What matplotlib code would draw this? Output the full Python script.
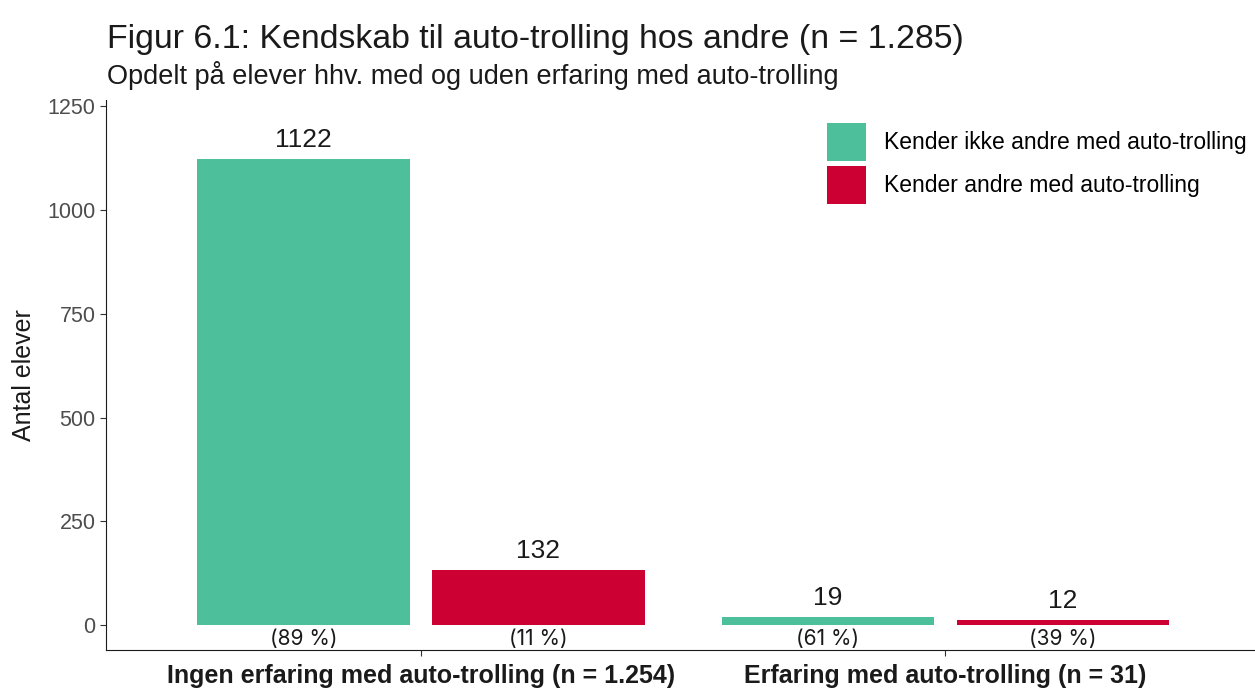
import matplotlib
matplotlib.use("Agg")
import matplotlib.pyplot as plt
import numpy as np

# data
groups = ["Ingen erfaring med auto-trolling (n = 1.254)", "Erfaring med auto-trolling (n = 31)"]
series = ["Kender ikke andre med auto-trolling", "Kender andre med auto-trolling"]
kender_ikke = [1122, 19]
kender = [132, 12]
pct_kender_ikke = ["(89 %)", "(61 %)"]
pct_kender = ["(11 %)", "(39 %)"]
colors = ["#4dbf9a", "#cc0033"]

plt.rcParams['font.family'] = ['Liberation Sans', 'DejaVu Sans']

fig = plt.figure(figsize=(12.55, 6.9), dpi=100)
ax = fig.add_axes([0.0845, 0.058, 0.9155, 0.797])

x = np.arange(1, len(groups) + 1)
w = 0.405
off = 0.224

for vals, pcts, dx, col, lab in [(kender_ikke, pct_kender_ikke, -off, colors[0], series[0]),
                                 (kender, pct_kender, off, colors[1], series[1])]:
    ax.bar(x + dx, vals, width=w, color=col, label=lab)
    for xi, v, p in zip(x + dx, vals, pcts):
        ax.annotate(str(v), (xi, v), xytext=(0, 5), textcoords="offset points",
                    ha="center", va="bottom", fontsize=19, color="#1a1a1a")
        ax.annotate(p, (xi, 0), xytext=(0, -2.5), textcoords="offset points",
                    ha="center", va="top", fontsize=15, color="#1a1a1a", family="Inter")

ax.set_xlim(0.4, 2.59)
ax.set_ylim(-60, 1265)
ax.set_yticks([0, 250, 500, 750, 1000, 1250])
ax.set_xticks(x)
ax.set_xticklabels(groups, fontweight="bold", fontsize=18, color="#1a1a1a")
ax.tick_params(axis="y", labelsize=15.5, labelcolor="#4d4d4d", length=4, color="#333333")
ax.tick_params(axis="x", length=4, color="#333333", pad=6)
ax.spines["top"].set_visible(False)
ax.spines["right"].set_visible(False)
ax.spines["left"].set_color("#1a1a1a")
ax.spines["bottom"].set_color("#1a1a1a")
ax.set_ylabel("Antal elever", fontsize=18, color="#1a1a1a", labelpad=8)

leg = ax.legend(loc="upper left", bbox_to_anchor=(0.6275, 0.958), frameon=False,
                fontsize=16.5, handlelength=1.68, handleheight=2.18, handletextpad=0.8,
                labelspacing=0.2, borderaxespad=0, borderpad=0)

fig.text(0.0855, 0.930, "Figur 6.1: Kendskab til auto-trolling hos andre (n = 1.285)",
         fontsize=24.4, color="#1a1a1a", va="baseline")
fig.text(0.0855, 0.878, "Opdelt på elever hhv. med og uden erfaring med auto-trolling",
         fontsize=19.5, color="#1a1a1a", va="baseline")

plt.savefig("out.png", dpi=100)
